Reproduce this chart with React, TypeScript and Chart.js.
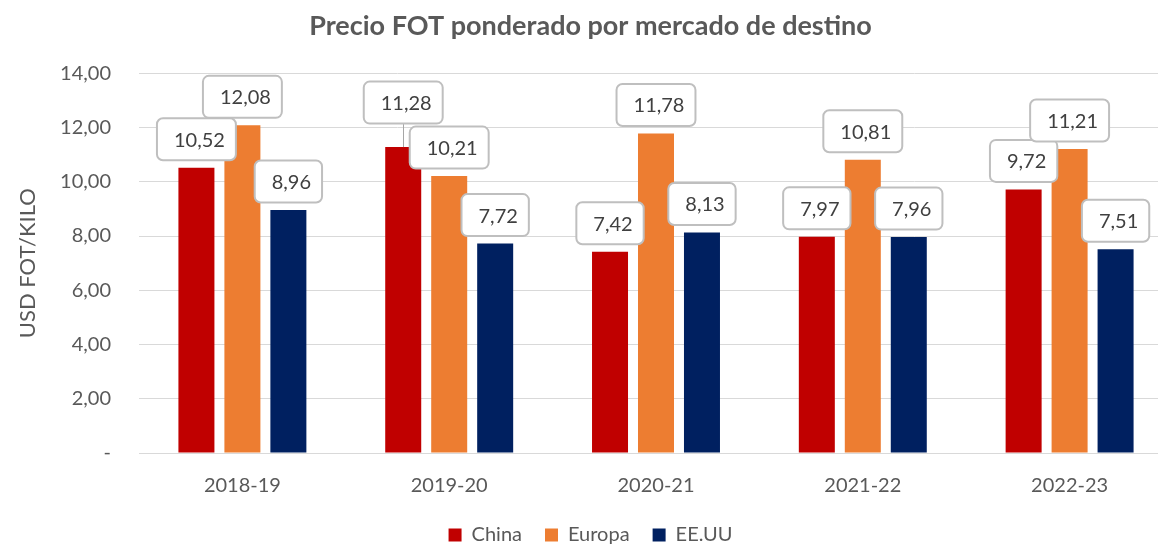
import React, { useEffect, useRef } from "react";
import { Chart, registerables } from "chart.js";

Chart.register(...registerables);

const chartTitle = "Precio FOT ponderado por mercado de destino";
const yAxisTitle = "USD FOT/KILO";
const categories = ["2018-19", "2019-20", "2020-21", "2021-22", "2022-23"];
const seriesNames = ["China", "Europa", "EE.UU"];
const chinaValues = [10.52, 11.28, 7.42, 7.97, 9.72];
const europaValues = [12.08, 10.21, 11.78, 10.81, 11.21];
const eeuuValues = [8.96, 7.72, 8.13, 7.96, 7.51];
const yMin = 0;
const yMax = 14;
const yStep = 2;

const seriesColors = ["#C00000", "#ED7D31", "#002060"];
const FONT = "Lato, 'Open Sans', sans-serif";

const fmt = (v: number) => v.toFixed(2).replace(".", ",");

const LABEL_FONT_SIZE = 20;
const PAD_X = 14;
const BOX_H = 42;
const GAP = 7.5;
const TOL = 4;
const SEP = 3;

const boxLabelPlugin = {
  id: "boxLabels",
  afterDatasetsDraw(chart: any) {
    const ctx = chart.ctx as CanvasRenderingContext2D;
    ctx.save();
    ctx.font = `${LABEL_FONT_SIZE}px ${FONT}`;
    const n = chart.data.labels.length;
    for (let i = 0; i < n; i++) {
      const boxes: any[] = [];
      chart.data.datasets.forEach((ds: any, d: number) => {
        const meta = chart.getDatasetMeta(d);
        const el = meta.data[i];
        if (!el) return;
        const text = fmt(ds.data[i]);
        const w = ctx.measureText(text).width + 2 * PAD_X;
        boxes.push({
          text,
          cx: el.x,
          w,
          h: BOX_H,
          bottom: el.y - GAP,
          natural: el.y - GAP,
          barTop: el.y,
          left: el.x - w / 2,
          right: el.x + w / 2,
        });
      });
      const order = [...boxes].sort((a, b) => b.bottom - a.bottom);
      const placed: any[] = [];
      for (const b of order) {
        let moved = true;
        let guard = 0;
        while (moved && guard < 10) {
          moved = false;
          guard++;
          for (const p of placed) {
            const xo = Math.min(b.right, p.right) - Math.max(b.left, p.left);
            const top = b.bottom - b.h;
            const ptop = p.bottom - p.h;
            const yo = Math.min(b.bottom, p.bottom) - Math.max(top, ptop);
            if (xo > 0 && yo > TOL) {
              b.bottom = ptop - SEP;
              moved = true;
            }
          }
        }
        placed.push(b);
      }
      for (const b of boxes) {
        if (b.natural - b.bottom > 2) {
          ctx.strokeStyle = "#A6A6A6";
          ctx.lineWidth = 1;
          ctx.beginPath();
          ctx.moveTo(Math.round(b.cx) + 0.5, b.bottom);
          ctx.lineTo(Math.round(b.cx) + 0.5, b.barTop);
          ctx.stroke();
        }
        const top = b.bottom - b.h;
        ctx.beginPath();
        if ((ctx as any).roundRect) {
          (ctx as any).roundRect(b.left, top, b.w, b.h, 6);
        } else {
          ctx.rect(b.left, top, b.w, b.h);
        }
        ctx.fillStyle = "#FFFFFF";
        ctx.fill();
        ctx.strokeStyle = "#BFBFBF";
        ctx.lineWidth = 2;
        ctx.stroke();
        ctx.fillStyle = "#404040";
        ctx.textAlign = "center";
        ctx.textBaseline = "middle";
        ctx.fillText(b.text, b.cx + 3, top + b.h / 2 + 1);
      }
    }
    ctx.restore();
  },
};

export default function App() {
  const canvasRef = useRef<HTMLCanvasElement | null>(null);

  useEffect(() => {
    if (!canvasRef.current) return;
    const seriesValues = [chinaValues, europaValues, eeuuValues];
    const chart = new Chart(canvasRef.current, {
      type: "bar",
      data: {
        labels: categories,
        datasets: seriesNames.map((name, i) => ({
          label: name,
          data: seriesValues[i],
          backgroundColor: seriesColors[i],
          borderWidth: 0,
          barPercentage: 0.783,
          categoryPercentage: 0.667,
        })),
      },
      options: {
        animation: false,
        responsive: true,
        maintainAspectRatio: false,
        layout: { padding: { left: 8, right: 12, top: 0, bottom: -9 } },
        plugins: {
          title: {
            display: true,
            text: chartTitle,
            color: "#595959",
            font: { family: FONT, size: 27, weight: "bold" },
            padding: { top: 10, bottom: 30.9 },
          },
          legend: {
            display: true,
            position: "bottom",
            labels: {
              color: "#595959",
              font: { family: FONT, size: 20 },
              boxWidth: 13,
              boxHeight: 13,
              padding: 23,
            },
          },
          tooltip: { enabled: false },
        },
        scales: {
          x: {
            grid: { display: false },
            border: { display: true, color: "#D9D9D9", width: 1 },
            ticks: {
              color: "#595959",
              font: { family: FONT, size: 20 },
              padding: 13,
            },
            afterFit: (scale: any) => {
              scale.height = 49;
            },
          },
          y: {
            min: yMin,
            max: yMax,
            ticks: {
              stepSize: yStep,
              color: "#595959",
              font: { family: FONT, size: 20 },
              padding: 28,
              callback: (v: any) => (Number(v) === 0 ? "-" : fmt(Number(v))),
            },
            grid: { color: "#D9D9D9", drawTicks: false },
            border: { display: false },
            title: {
              display: true,
              text: yAxisTitle,
              color: "#595959",
              font: { family: FONT, size: 22 },
              padding: { top: 7, bottom: 0 },
            },
            afterFit: (scale: any) => {
              scale.width = 131;
            },
          },
        },
      },
      plugins: [boxLabelPlugin],
    });
    return () => chart.destroy();
  }, []);

  return (
    <div
      style={{
        position: "fixed",
        left: 0,
        top: 0,
        width: 1158,
        height: 546,
        overflow: "hidden",
        background: "#FFFFFF",
      }}
    >
      <div style={{ position: "relative", width: 1185, height: 546 }}>
        <canvas ref={canvasRef} />
      </div>
    </div>
  );
}
